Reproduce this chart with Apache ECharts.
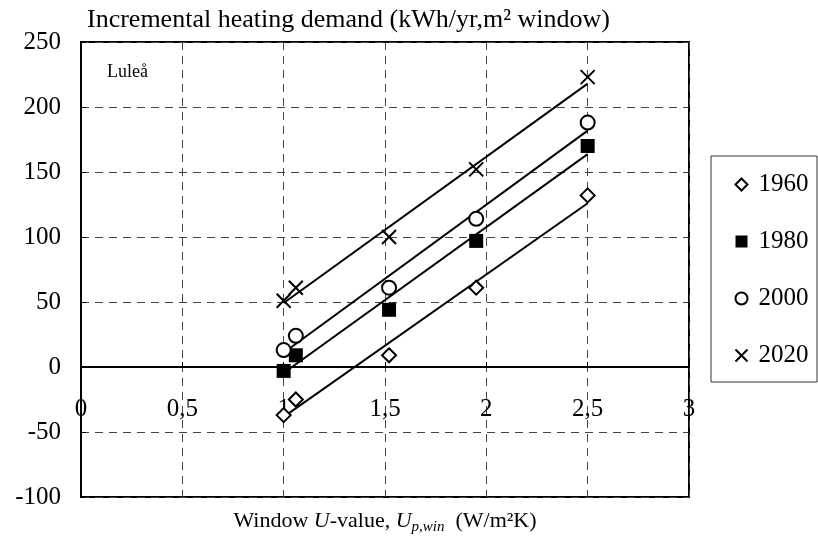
<!DOCTYPE html>
<html>
<head>
<meta charset="utf-8">
<script src="https://cdn.jsdelivr.net/npm/echarts@6/dist/echarts.min.js"></script>
<style>
html,body{margin:0;padding:0;background:#fff;}
#c{width:818px;height:551px;}
</style>
</head>
<body>
<div id="c"></div>
<script>
// ---- data ----
const uValues = [1.0, 1.06, 1.52, 1.95, 2.5];
const demand1960 = [-37, -25, 9, 61, 132];
const demand1980 = [-3, 9, 44, 97, 170];
const demand2000 = [13, 24, 61, 114, 188];
const demand2020 = [51, 61, 100, 152, 223];
const seriesNames = ['1960', '1980', '2000', '2020'];
const xTickValues = [0, 0.5, 1, 1.5, 2, 2.5, 3];
const yTickValues = [-100, -50, 0, 50, 100, 150, 200, 250];

const FONT = '"Liberation Serif", "Times New Roman", serif';
const allDemand = [demand1960, demand1980, demand2000, demand2020];

function regressionLine(xs, ys) {
  const n = xs.length;
  const mx = xs.reduce((a, b) => a + b, 0) / n;
  const my = ys.reduce((a, b) => a + b, 0) / n;
  let sxx = 0, sxy = 0;
  for (let i = 0; i < n; i++) { sxx += (xs[i] - mx) ** 2; sxy += (xs[i] - mx) * (ys[i] - my); }
  const b = sxy / sxx, a = my - b * mx;
  const x0 = Math.min(...xs), x1 = Math.max(...xs);
  return [[x0, a + b * x0], [x1, a + b * x1]];
}

const markerDefs = [
  { symbol: 'diamond', symbolSize: 14, itemStyle: { color: '#fff', borderColor: '#000', borderWidth: 2, opacity: 1 } },
  { symbol: 'rect', symbolSize: 14, itemStyle: { color: '#000', borderColor: '#000', borderWidth: 0, opacity: 1 } },
  { symbol: 'circle', symbolSize: 14, itemStyle: { color: '#fff', borderColor: '#000', borderWidth: 2, opacity: 1 } },
  { symbol: 'path://M0,0L10,10M10,0L0,10', symbolSize: 14, itemStyle: { color: 'none', borderColor: '#000', borderWidth: 2, opacity: 1 } }
];

const series = [];
allDemand.forEach((ys, i) => {
  series.push({
    type: 'line', data: regressionLine(uValues, ys), symbol: 'none', silent: true, z: 2,
    lineStyle: { color: '#000', width: 2 }, legendHoverLink: false
  });
});
allDemand.forEach((ys, i) => {
  series.push(Object.assign({
    name: seriesNames[i], type: 'scatter', z: 5,
    data: uValues.map((x, j) => [x, ys[j]])
  }, markerDefs[i]));
});

const chart = echarts.init(document.getElementById('c'), null, { renderer: 'canvas' });
chart.setOption({
  animation: false,
  backgroundColor: '#fff',
  textStyle: { fontFamily: FONT },
  title: {
    text: 'Incremental heating demand (kWh/yr,m² window)',
    left: 87, top: 7, padding: 0,
    textStyle: { fontFamily: FONT, fontSize: 26, fontWeight: 'normal', color: '#000' }
  },
  grid: {
    left: 81, right: 129, top: 42, bottom: 54,
    show: true, borderColor: '#000', borderWidth: 2, backgroundColor: 'transparent'
  },
  xAxis: {
    type: 'value', min: 0, max: 3, interval: 0.5,
    axisLine: { show: true, onZero: true, lineStyle: { color: '#000', width: 2 } },
    axisTick: { show: true, inside: true, length: 5, lineStyle: { color: '#000', width: 1 } },
    axisLabel: {
      margin: -100, fontSize: 25, color: '#000', fontFamily: FONT,
      formatter: v => String(v).replace('.', ','),
      customValues: xTickValues
    },
    splitLine: { show: true, lineStyle: { color: '#444', width: 1, type: [8, 6] } }
  },
  yAxis: {
    type: 'value', min: -100, max: 250, interval: 50,
    axisLine: { show: true, lineStyle: { color: '#000', width: 2 } },
    axisTick: { show: true, inside: true, length: 5, lineStyle: { color: '#000', width: 1 } },
    axisLabel: { margin: 20, fontSize: 25, color: '#000', fontFamily: FONT, customValues: yTickValues },
    splitLine: { show: true, lineStyle: { color: '#444', width: 1, type: [8, 6] } }
  },
  legend: {
    orient: 'vertical', left: 733, top: 172, padding: 0,
    data: seriesNames,
    itemWidth: 12, itemHeight: 12, itemGap: 32,
    textStyle: { fontFamily: FONT, fontSize: 25, color: '#000', lineHeight: 25, padding: [0, 0, 0, 6] },
    selectedMode: false
  },
  graphic: [
    { type: 'rect', z: -1, shape: { x: 711, y: 156, width: 106, height: 226 },
      style: { fill: '#fff', stroke: '#333', lineWidth: 1 } },
    { type: 'text', left: 107, top: 63, z: 10,
      style: { text: 'Luleå', font: '18px ' + FONT, fill: '#000' } },
    { type: 'text', z: 10, x: 385, y: 521,
      style: {
        text: '{n|Window }{i|U}{n|-value, }{i|U}{s|p,win}{n|  (W/m²K)}',
        align: 'center', verticalAlign: 'middle',
        rich: {
          n: { fontFamily: FONT, fontSize: 22, fill: '#000', color: '#000' },
          i: { fontFamily: FONT, fontSize: 22, fontStyle: 'italic', fill: '#000', color: '#000' },
          s: { fontFamily: FONT, fontSize: 15, fontStyle: 'italic', fill: '#000', color: '#000', verticalAlign: 'bottom', padding: [13, 0, 0, 0] }
        }
      } }
  ],
  series: series
});
</script>
</body>
</html>
